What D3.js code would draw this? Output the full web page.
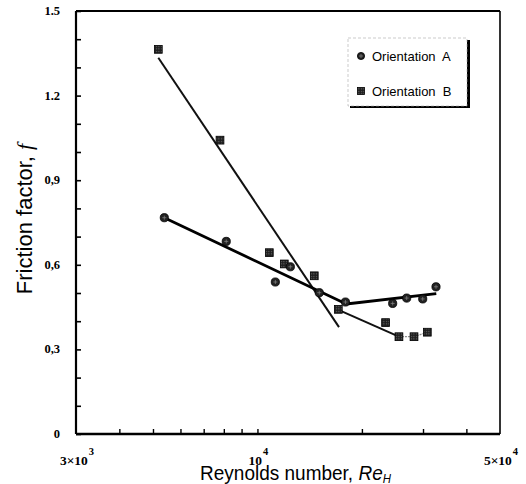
<!DOCTYPE html>
<html>
<head>
<meta charset="utf-8">
<script src="https://cdn.jsdelivr.net/npm/d3@7"></script>
<style>
  html, body { margin: 0; padding: 0; background: #fff; }
  svg { display: block; }
</style>
</head>
<body>
<svg id="chart" width="526" height="484"></svg>
<script>
// Measured friction factor versus Reynolds number for the two orientations
const reA = [5390, 8130, 11260, 12440, 15070, 17930, 24530, 26920, 29940, 32700];
const fA  = [0.767, 0.683, 0.539, 0.593, 0.501, 0.468, 0.463, 0.482, 0.479, 0.522];
const reB = [5180, 7800, 10820, 11950, 14580, 17100, 23400, 25570, 28260, 30870];
const fB  = [1.364, 1.042, 0.643, 0.603, 0.561, 0.442, 0.395, 0.345, 0.345, 0.361];

// Correlation lines (Re, f)
const fitA  = [[5390, 0.767], [18030, 0.461], [32760, 0.4975]];
const fitB1 = [[5180, 1.334], [17180, 0.379]];
const fitB2 = [[17180, 0.439], [25570, 0.345]];

// Axis ticks
const yMajor = [0, 0.3, 0.6, 0.9, 1.2, 1.5];
const yLabels = ["0", "0,3", "0,6", "0,9", "1.2", "1.5"];
const yMinor = [0.1, 0.2, 0.4, 0.5, 0.7, 0.8, 1.0, 1.1, 1.3, 1.4];
const xMinor = [4000, 5000, 6000, 7000, 8000, 9000, 10000, 20000, 30000, 40000];
const xLabels = [
  { v: 3000,  base: "3\u00d710", exp: "3" },
  { v: 10000, base: "10",        exp: "4" },
  { v: 50000, base: "5\u00d710", exp: "4" }
];
const legendItems = ["Orientation  A", "Orientation  B"];

const svg = d3.select("#chart");
const L = 76, R = 500, T = 11, B = 434;

const x = d3.scaleLog().domain([3000, 50000]).range([L, R]);
const y = d3.scaleLinear().domain([0, 1.5]).range([B, T]);

const sans = "'Liberation Sans', Arial, Helvetica, sans-serif";
const serif = "'Liberation Serif', 'Times New Roman', serif";

// Marker fills
const defs = svg.append("defs");
const pat = defs.append("pattern").attr("id", "grid")
  .attr("patternUnits", "userSpaceOnUse").attr("width", 2.5).attr("height", 2.5);
pat.append("rect").attr("width", 2.5).attr("height", 2.5).attr("fill", "#1e1e1e");
pat.append("rect").attr("x", 1).attr("y", 1).attr("width", 0.9).attr("height", 0.9).attr("fill", "#9a9a9a");

// Frame
const frame = svg.append("g").attr("stroke", "#000").attr("fill", "none");
frame.append("line").attr("x1", L).attr("x2", R).attr("y1", T).attr("y2", T).attr("stroke-width", 2);
frame.append("line").attr("x1", R).attr("x2", R).attr("y1", T).attr("y2", B).attr("stroke-width", 1.6);

// Left axis with inward ticks
const yAxis = d3.axisRight(y).tickValues(yMajor.concat(yMinor)).tickSize(5).tickFormat("");
const gy = svg.append("g").attr("transform", `translate(${L},0)`).call(yAxis);
gy.select(".domain").attr("stroke-width", 2.2).attr("d", `M0,${T}V${B}`);
gy.selectAll(".tick line").attr("stroke-width", 1.6);

// Bottom axis with inward ticks
const xAxis = d3.axisTop(x).tickValues(xMinor).tickSize(5).tickFormat("");
const gx = svg.append("g").attr("transform", `translate(0,${B})`).call(xAxis);
gx.select(".domain").attr("stroke-width", 2.6).attr("d", `M${L},0H${R}`);
gx.selectAll(".tick line").attr("stroke-width", 1.4);

// Y tick labels
svg.append("g").selectAll("text").data(yMajor).join("text")
  .attr("x", 60).attr("y", d => y(d) + 4)
  .attr("text-anchor", "end")
  .attr("font-family", serif).attr("font-weight", "bold").attr("font-size", 12.5)
  .text((d, i) => yLabels[i]);

// X tick labels with exponents
const xl = svg.append("g").selectAll("text").data(xLabels).join("text")
  .attr("x", d => x(d.v) + 1).attr("y", 465)
  .attr("text-anchor", "middle")
  .attr("font-family", serif).attr("font-weight", "bold").attr("font-size", 13.5);
xl.append("tspan").text(d => d.base);
xl.append("tspan").attr("dy", -10).attr("dx", 1).attr("font-size", 10.5).text(d => d.exp);

// Axis titles
const yt = svg.append("text")
  .attr("transform", "translate(32,219) rotate(-90)")
  .attr("text-anchor", "middle").attr("font-family", sans).attr("font-size", 22);
yt.append("tspan").text("Friction factor, ");
yt.append("tspan").attr("font-family", serif).attr("font-style", "italic").text("f");

const xt = svg.append("g").attr("transform", "translate(295.5,479.5) scale(0.95,1)")
  .append("text").attr("text-anchor", "middle")
  .attr("font-family", sans).attr("font-size", 20);
xt.append("tspan").text("Reynolds number, ");
xt.append("tspan").attr("font-style", "italic").text("Re");
xt.append("tspan").attr("font-style", "italic").attr("font-size", 12).attr("dy", 3).text("H");

// Correlation lines
const line = d3.line().x(d => x(d[0])).y(d => y(d[1]));
svg.append("path").datum(fitB1).attr("d", line)
  .attr("fill", "none").attr("stroke", "#111").attr("stroke-width", 2);
svg.append("path").datum(fitB2).attr("d", line)
  .attr("fill", "none").attr("stroke", "#111").attr("stroke-width", 2);
svg.append("path").datum(fitA).attr("d", line)
  .attr("fill", "none").attr("stroke", "#000").attr("stroke-width", 2.8)
  .attr("stroke-linejoin", "round");
// thin connector through the last three B points
svg.append("path")
  .datum(reB.slice(7).map((r, i) => [r, fB[7 + i]]))
  .attr("d", line).attr("fill", "none").attr("stroke", "#8a8a8a")
  .attr("stroke-width", 1.2).attr("stroke-dasharray", "2,1");

// Data markers
const sq = 7.8;
svg.append("g").selectAll("rect").data(reB.map((r, i) => [r, fB[i]])).join("rect")
  .attr("x", d => x(d[0]) - sq / 2).attr("y", d => y(d[1]) - sq / 2)
  .attr("width", sq).attr("height", sq)
  .attr("fill", "url(#grid)").attr("stroke", "#000").attr("stroke-width", 0.8);

const gA = svg.append("g").selectAll("g").data(reA.map((r, i) => [r, fA[i]])).join("g")
  .attr("transform", d => `translate(${x(d[0])},${y(d[1])})`);
gA.append("circle").attr("r", 4.1).attr("fill", "#222").attr("stroke", "#000").attr("stroke-width", 0.8);
gA.append("path").attr("d", "M-2,0H2M0,-2V2").attr("stroke", "#888").attr("stroke-width", 0.7);

// Legend
const lg = svg.append("g");
lg.append("rect").attr("x", 350).attr("y", 40).attr("width", 120).attr("height", 68).attr("fill", "#000");
lg.append("rect").attr("x", 348).attr("y", 38).attr("width", 119).attr("height", 68)
  .attr("fill", "#fff").attr("stroke", "#aaa").attr("stroke-width", 0.6).attr("stroke-dasharray", "3,2");
const lgA = lg.append("g").attr("transform", "translate(361,56)");
lgA.append("circle").attr("r", 3.6).attr("fill", "#222").attr("stroke", "#000").attr("stroke-width", 0.8);
lgA.append("path").attr("d", "M-2,0H2M0,-2V2").attr("stroke", "#888").attr("stroke-width", 0.7);
lg.append("rect").attr("x", 361 - 3.5).attr("y", 91 - 3.5).attr("width", 7).attr("height", 7)
  .attr("fill", "url(#grid)").attr("stroke", "#000").attr("stroke-width", 0.8);
lg.selectAll("text").data(legendItems).join("text")
  .attr("x", 372).attr("y", (d, i) => 61 + i * 35)
  .attr("font-family", sans).attr("font-size", 13)
  .style("white-space", "pre").attr("xml:space", "preserve")
  .text(d => d);
</script>
</body>
</html>
